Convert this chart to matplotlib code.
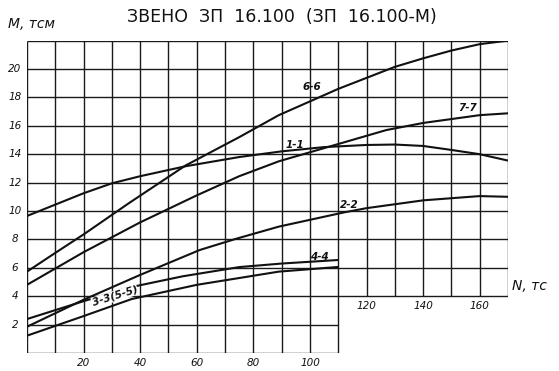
import matplotlib
matplotlib.use("Agg")
import matplotlib.pyplot as plt

_INK = "#111111"

# curve data (N in тс, M in тсм)
n_11 = [0, 10, 20, 30, 40, 56, 75, 90, 105, 120, 130, 140, 150, 160, 170]
m_11 = [9.65, 10.45, 11.25, 11.95, 12.45, 13.15, 13.8, 14.2, 14.5, 14.65, 14.68, 14.58, 14.3, 14.0, 13.55]

n_66 = [0, 10, 20, 36, 56, 75, 89, 110, 130, 140, 150, 160, 170]
m_66 = [5.73, 7.05, 8.35, 10.55, 13.2, 15.2, 16.75, 18.6, 20.15, 20.75, 21.3, 21.75, 22.0]

n_77 = [0, 20, 40, 60, 75, 89, 108, 127, 140, 160, 170]
m_77 = [4.8, 7.1, 9.2, 11.1, 12.45, 13.5, 14.6, 15.7, 16.2, 16.75, 16.88]

n_22 = [0, 20, 40, 61, 74, 89, 112, 120, 140, 160, 170]
m_22 = [1.85, 3.75, 5.5, 7.25, 8.05, 8.9, 9.9, 10.2, 10.75, 11.05, 11.0]

n_44 = [0, 20, 37, 55, 75, 90, 110]
m_44 = [2.39, 3.65, 4.65, 5.4, 6.05, 6.3, 6.55]

n_33 = [0, 20, 37, 60, 75, 89, 110]
m_33 = [1.22, 2.6, 3.8, 4.8, 5.28, 5.73, 6.06]

curves = [(n_11, m_11), (n_66, m_66), (n_77, m_77), (n_22, m_22), (n_44, m_44), (n_33, m_33)]

# label text, position (N, M), rotation
labels = [("6-6", 100.7, 18.7, 0), ("7-7", 155.8, 17.25, 0), ("1-1", 94.7, 14.65, 0),
          ("2-2", 114, 10.4, 0), ("4-4", 103.5, 6.75, 0), ("3-3(5-5)", 31, 4.0, 17)]

y_ticks = [2, 4, 6, 8, 10, 12, 14, 16, 18, 20]
x_ticks_low = [20, 40, 60, 80, 100]
x_ticks_high = [120, 140, 160]

N_MAX, N_CUT, M_MAX, M_CUT = 170, 110, 22, 4

fig = plt.figure(figsize=(5.59, 3.71), dpi=100)
ax = fig.add_axes([27 / 559, 18 / 371, 481 / 559, 312.4 / 371])
ax.set_xlim(0, N_MAX)
ax.set_ylim(0, M_MAX)
ax.axis("off")

# grid: left block down to M=0, right block down to M=4
grid_kw = dict(color="#1a1a1a", lw=1.0, zorder=1)
for xv in range(0, N_MAX + 1, 10):
    ax.vlines(xv, 0 if xv <= N_CUT else M_CUT, M_MAX, **grid_kw)
for yv in range(0, M_MAX + 1, 2):
    ax.hlines(yv, 0, N_CUT if yv < M_CUT else N_MAX, **grid_kw)

for n, m in curves:
    ax.plot(n, m, color=_INK, lw=1.5, zorder=3, solid_capstyle="butt")

for txt, x, y, rot in labels:
    ax.text(x, y, txt, fontsize=7.5, style="italic", fontweight="bold", color=_INK,
            ha="center", va="center", rotation=rot, zorder=4,
            bbox=dict(facecolor="white", edgecolor="none", pad=0.3) if rot else None)

tick_kw = dict(fontsize=7.5, style="italic", color=_INK)
for yv in y_ticks:
    ax.text(-4.3, yv, str(yv), ha="center", va="center", **tick_kw)
for xv in x_ticks_low:
    ax.text(xv, -0.35, str(xv), ha="center", va="top", **tick_kw)
for xv in x_ticks_high:
    ax.text(xv, M_CUT - 0.35, str(xv), ha="center", va="top", **tick_kw)

fig.text(8 / 559, 1 - 24 / 371, "M, тсм", fontsize=10, style="italic", color=_INK,
         ha="left", va="center")
ax.text(N_MAX + 1.5, M_CUT + 0.75, "N, тс", fontsize=10, style="italic", color=_INK,
        ha="left", va="center")
fig.text(282 / 559, 1 - 17 / 371, "ЗВЕНО  ЗП  16.100  (ЗП  16.100-М)", fontsize=12.5,
         color=_INK, ha="center", va="center")

fig.savefig("out.png", dpi=100, facecolor="white")
